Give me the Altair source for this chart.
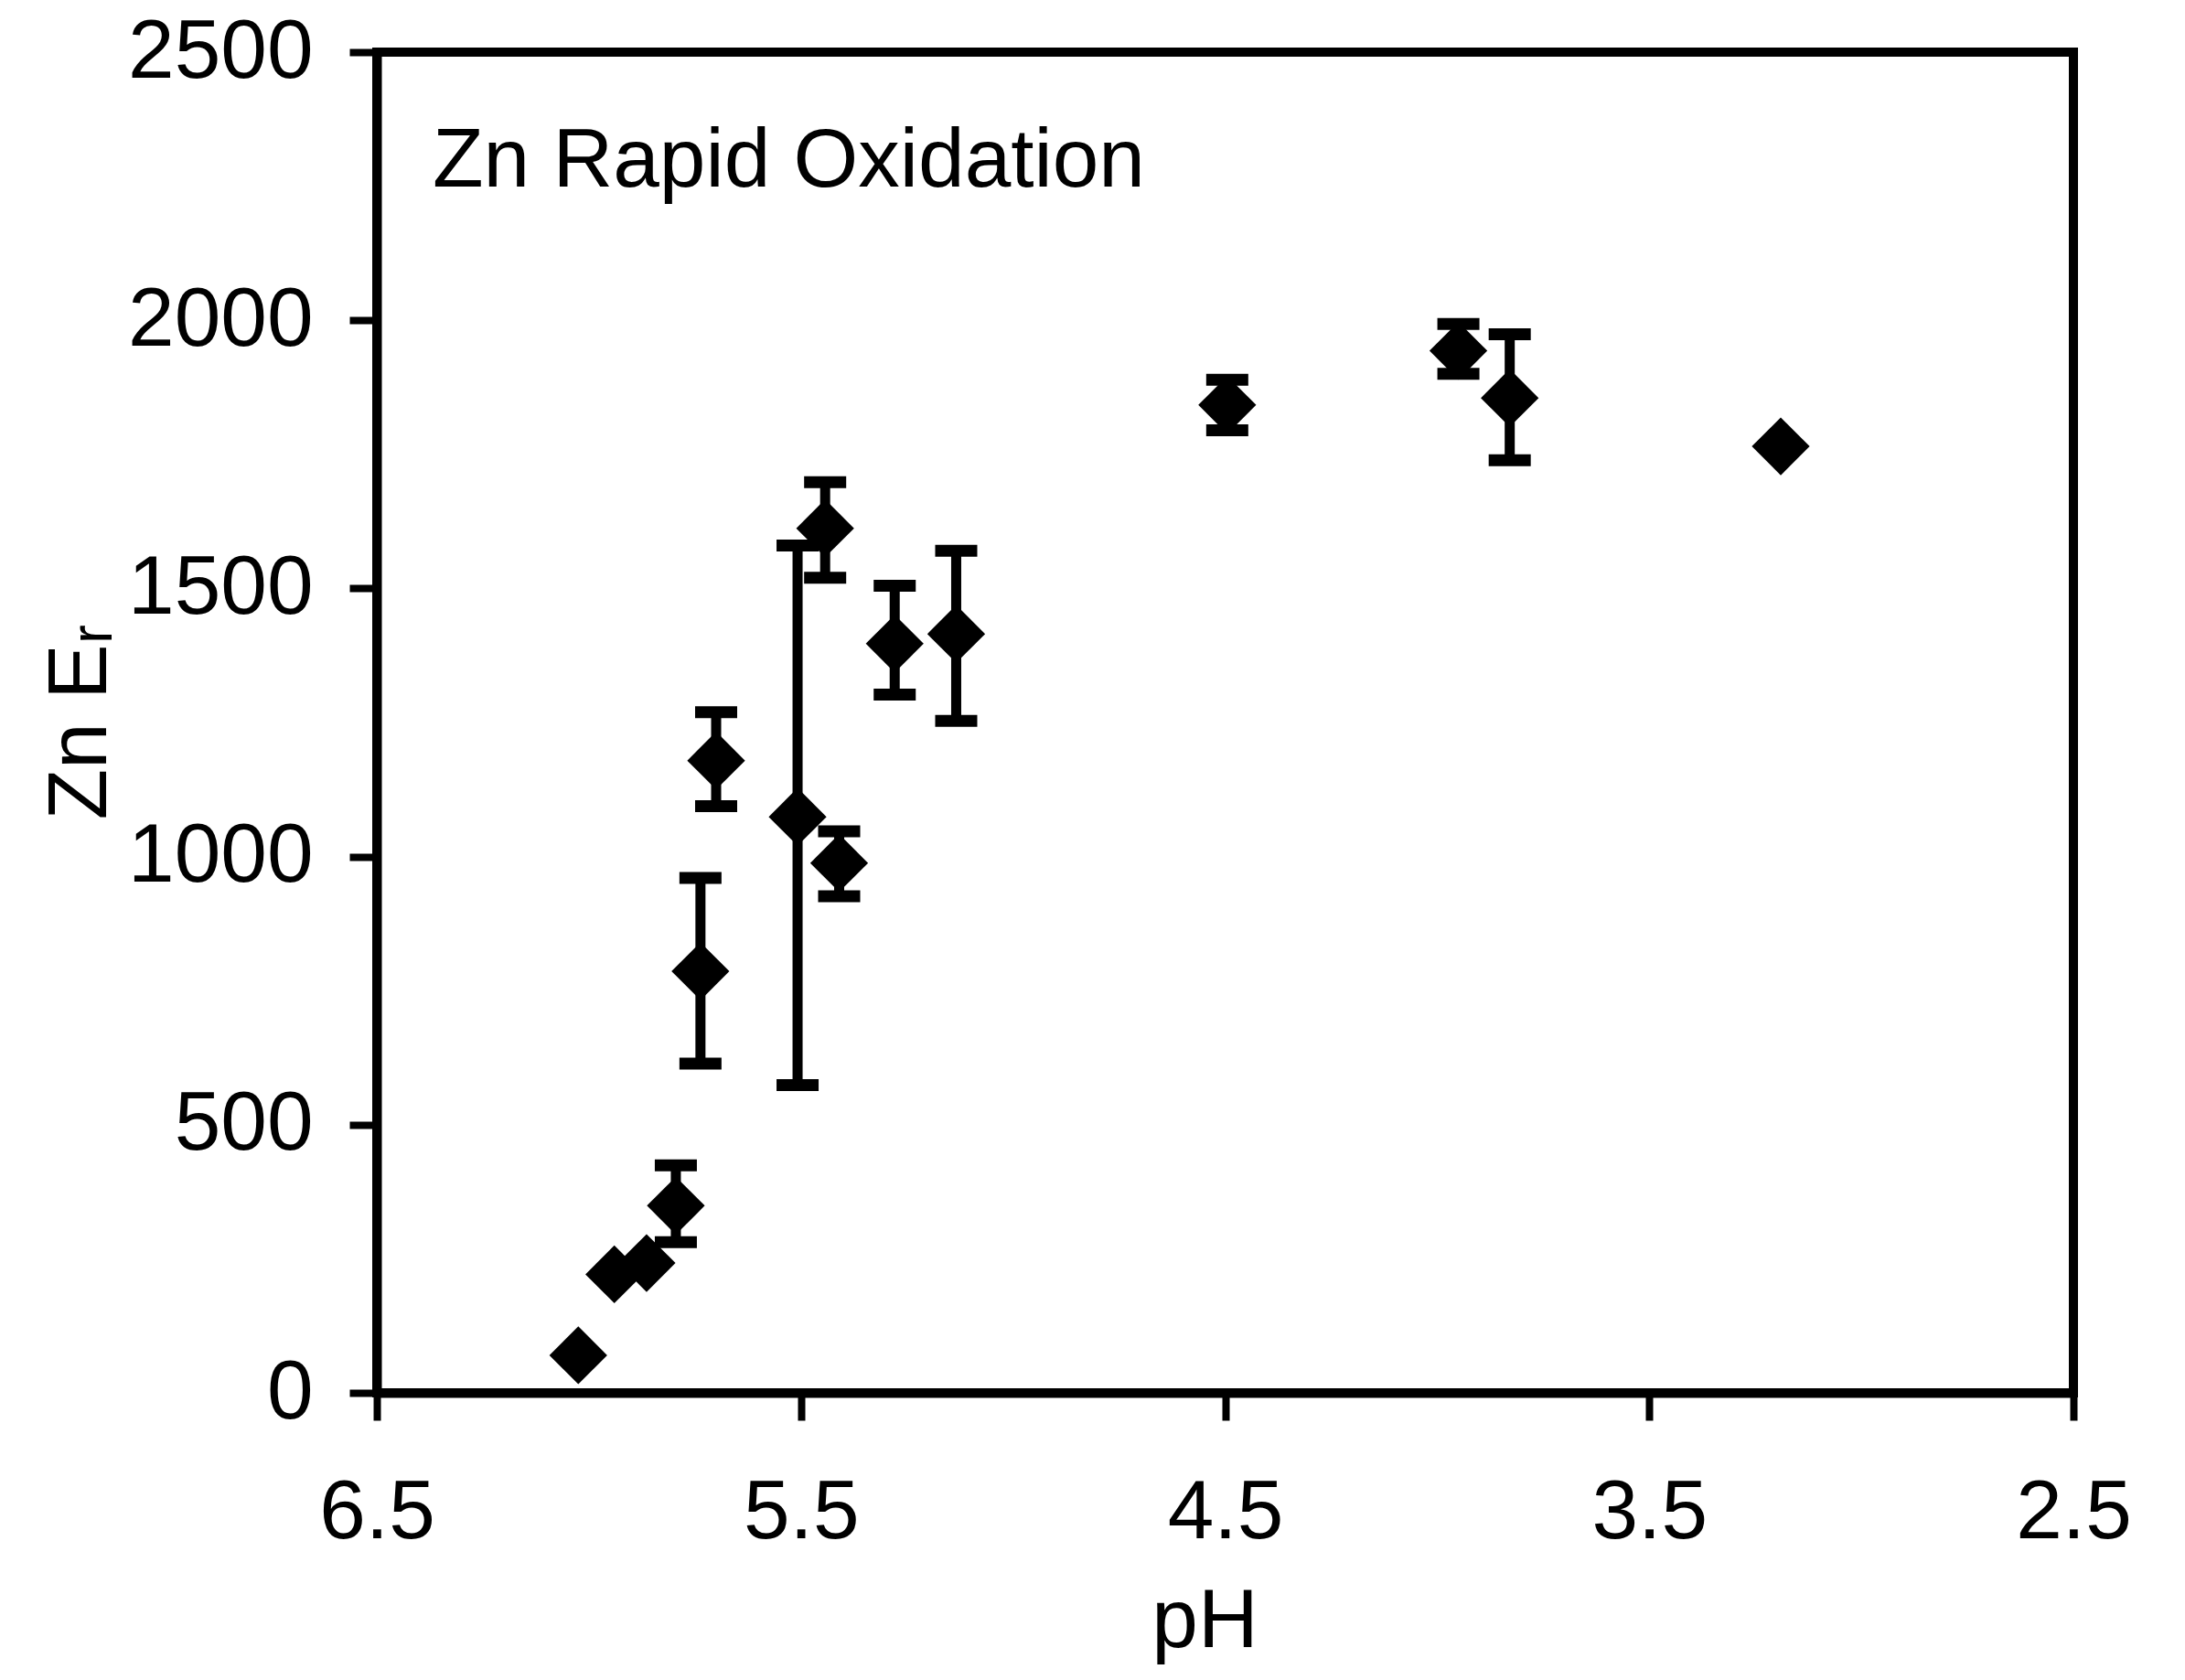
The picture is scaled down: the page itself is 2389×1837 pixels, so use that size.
import altair as alt
import pandas as pd

# ---- data ----
ph = [6.025, 5.94, 5.864, 5.795, 5.737, 5.70, 5.508, 5.443, 5.41, 5.279, 5.134, 4.495, 3.95, 3.829, 3.19]
zn_er = [70, 221, 242, 349, 786, 1179, 1074, 1612, 988, 1397, 1415, 1842, 1943, 1855, 1765]

err_ph = [5.795, 5.737, 5.70, 5.508, 5.443, 5.41, 5.279, 5.134, 4.495, 3.95, 3.829]
err_high = [424, 960, 1269, 1580, 1698, 1047, 1505, 1570, 1889, 1993, 1974]
err_low = [281, 614, 1094, 574, 1520, 926, 1302, 1253, 1795, 1900, 1739]

x_ticks = [6.5, 5.5, 4.5, 3.5, 2.5]
y_ticks = [0, 500, 1000, 1500, 2000, 2500]

panel_label = ["Zn Rapid Oxidation"]

points = pd.DataFrame({"pH": ph, "Er": zn_er})
bars = pd.DataFrame({"pH": err_ph, "high": err_high, "low": err_low})

FONT = "Liberation Sans"
FS = 91

xscale = alt.Scale(domain=[6.5, 2.5], nice=False, zero=False)
yscale = alt.Scale(domain=[0, 2500], nice=False)

x_axis = alt.Axis(values=x_ticks, format=".1f", title="pH",
                  labelPadding=56, titleX=905, titleY=277,
                  titleAlign="center", titleBaseline="alphabetic")
y_axis = alt.Axis(values=y_ticks, format="d", title="Zn Eᵣ",
                  labelPadding=40, titleX=-297, titleY=732, titleAngle=-90,
                  titleAlign="center", titleBaseline="alphabetic")

X = alt.X("pH:Q", scale=xscale, axis=x_axis)

rules = alt.Chart(bars).mark_rule(color="black", strokeWidth=11).encode(
    x=X,
    y=alt.Y("low:Q", scale=yscale, axis=y_axis),
    y2="high:Q",
)
caps_top = alt.Chart(bars).mark_tick(color="black", size=46, thickness=13,
                                     orient="horizontal", opacity=1).encode(
    x=X,
    y=alt.Y("high:Q", scale=yscale, axis=y_axis),
)
caps_bot = alt.Chart(bars).mark_tick(color="black", size=46, thickness=13,
                                     orient="horizontal", opacity=1).encode(
    x=X,
    y=alt.Y("low:Q", scale=yscale, axis=y_axis),
)
diamonds = alt.Chart(points).mark_point(shape="diamond", filled=True, color="black",
                                        size=4000, opacity=1).encode(
    x=X,
    y=alt.Y("Er:Q", scale=yscale, axis=y_axis),
)
label = alt.Chart(pd.DataFrame({"t": panel_label})).mark_text(
    align="left", baseline="alphabetic", font=FONT, fontSize=FS, color="black"
).encode(x=alt.value(61), y=alt.value(147), text="t:N")

chart = alt.layer(rules, caps_top, caps_bot, diamonds, label).properties(
    width=1855, height=1466,
    autosize=alt.AutoSizeParams(type="none"),
    padding={"left": 412, "top": 57, "right": 122, "bottom": 314},
    background="white",
).configure_view(
    stroke="black", strokeWidth=10
).configure_axis(
    grid=False,
    domain=True, domainColor="black", domainWidth=10,
    ticks=True, tickColor="black", tickWidth=8, tickSize=30,
    labelFont=FONT, labelFontSize=FS, labelColor="black", labelLimit=0,
    titleFont=FONT, titleFontSize=FS, titleColor="black", titleFontWeight="normal",
    titleLimit=0,
    labelFlush=False, labelOverlap=False,
)

chart.save("out.html", embed_options={"renderer": "svg", "actions": False})
